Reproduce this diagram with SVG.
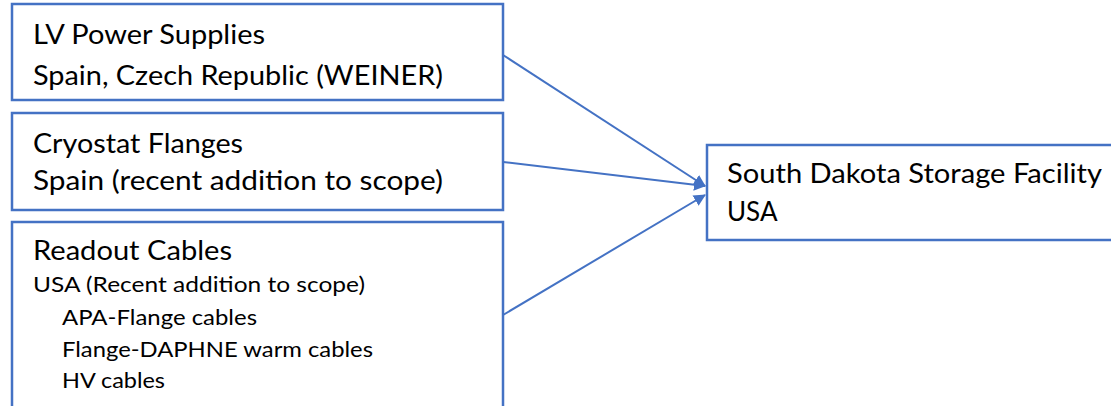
<svg xmlns="http://www.w3.org/2000/svg" width="1111" height="406" viewBox="0 0 1111 406">
  <style>
    .box { fill: #ffffff; stroke: #4472C4; stroke-width: 2.5; }
    .link { fill: none; stroke: #4472C4; stroke-width: 2; }
    .t { font-family: Lato, "Liberation Sans", sans-serif; fill: #000000; }
    .big { font-size: 26px; }
    .small { font-size: 22px; }
  </style>
  <defs>
    <marker id="arrow" markerWidth="12" markerHeight="12" refX="11" refY="6" orient="auto" markerUnits="userSpaceOnUse" viewBox="0 0 12 12">
      <path d="M0,0 L12,6 L0,12 z" fill="#4472C4"/>
    </marker>
  </defs>
  <rect width="1111" height="406" fill="#ffffff"/>

  <g id="lv-power">
    <rect class="box" x="12" y="4" width="491" height="96"/>
    <text class="t big" x="33" y="44" textLength="232" lengthAdjust="spacingAndGlyphs">LV Power Supplies</text>
    <text class="t big" x="33" y="85" textLength="410" lengthAdjust="spacingAndGlyphs">Spain, Czech Republic (WEINER)</text>
  </g>

  <g id="cryostat-flanges">
    <rect class="box" x="12" y="113" width="491" height="97"/>
    <text class="t big" x="33" y="153" textLength="210" lengthAdjust="spacingAndGlyphs">Cryostat Flanges</text>
    <text class="t big" x="33" y="190" textLength="410" lengthAdjust="spacingAndGlyphs">Spain (recent addition to scope)</text>
  </g>

  <g id="readout-cables">
    <rect class="box" x="12" y="222" width="491" height="200"/>
    <text class="t big" x="33" y="260" textLength="199" lengthAdjust="spacingAndGlyphs">Readout Cables</text>
    <text class="t small" x="33" y="292" textLength="332" lengthAdjust="spacingAndGlyphs">USA (Recent addition to scope)</text>
    <text class="t small" x="62" y="325" textLength="195" lengthAdjust="spacingAndGlyphs">APA-Flange cables</text>
    <text class="t small" x="62" y="357" textLength="311" lengthAdjust="spacingAndGlyphs">Flange-DAPHNE warm cables</text>
    <text class="t small" x="62" y="388" textLength="103" lengthAdjust="spacingAndGlyphs">HV cables</text>
  </g>

  <g id="sd-storage">
    <rect class="box" x="707" y="145" width="420" height="95"/>
    <text class="t big" x="727" y="183" textLength="375" lengthAdjust="spacingAndGlyphs">South Dakota Storage Facility</text>
    <text class="t big" x="727" y="221">USA</text>
  </g>

  <g id="connectors">
    <line class="link" x1="503" y1="55" x2="705" y2="186" marker-end="url(#arrow)"/>
    <line class="link" x1="503" y1="162" x2="705" y2="186" marker-end="url(#arrow)"/>
    <line class="link" x1="503" y1="315" x2="705" y2="195" marker-end="url(#arrow)"/>
  </g>
</svg>
